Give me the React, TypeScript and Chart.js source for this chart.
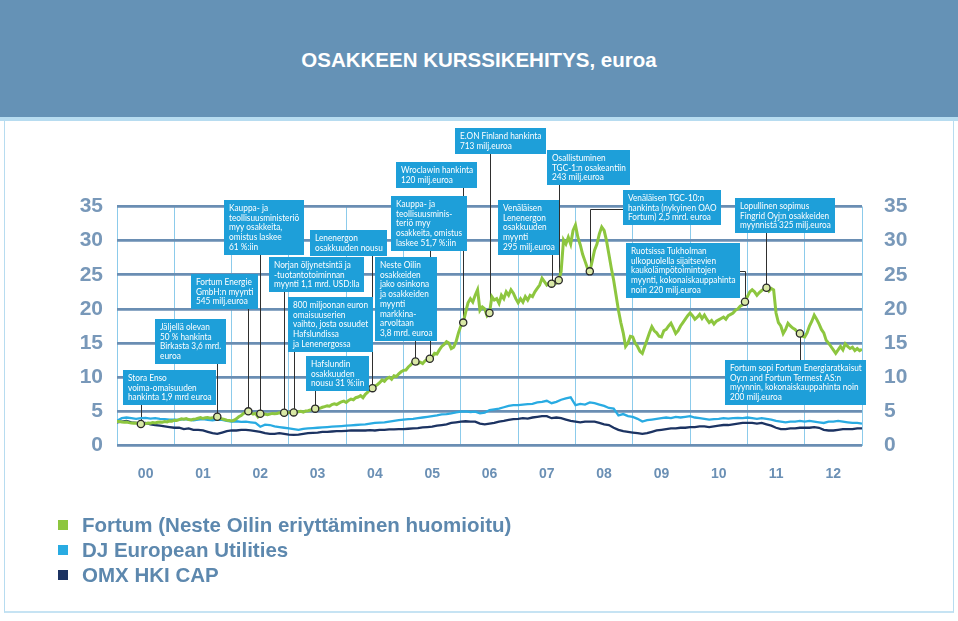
import React, { useEffect, useRef } from "react";
import { Chart, registerables } from "chart.js";

Chart.register(...registerables);

// ---------- data ----------
const YEAR_LABELS = ["00", "01", "02", "03", "04", "05", "06", "07", "08", "09", "10", "11", "12"];
const Y_TICKS = [0, 5, 10, 15, 20, 25, 30, 35];

const SERIES_NAMES = [
  "Fortum (Neste Oilin eriyttäminen huomioitu)",
  "DJ European Utilities",
  "OMX HKI CAP",
];

// Fortum share price, two readings per month (2000 – 2012)
const FORTUM_PER_YEAR = 24;
const F2000 = [3.5, 3.5, 3.45, 3.4, 3.45, 3.35, 3.3, 3.25, 3.3, 3.2, 3.15, 3.1, 3.2, 3.3, 3.25, 3.35, 3.3, 3.4, 3.45, 3.4, 3.5, 3.45, 3.6, 3.55];
const F2001 = [3.7, 3.65, 3.8, 3.9, 3.85, 3.95, 3.8, 3.75, 3.85, 3.9, 4.0, 4.1, 3.95, 4.05, 4.1, 4.0, 4.05, 4.15, 4.2, 4.0, 3.9, 3.8, 3.7, 3.65];
const F2002 = [3.6, 3.7, 3.9, 4.2, 4.4, 4.7, 4.9, 5.0, 4.8, 4.6, 4.7, 4.2, 4.65, 4.5, 4.6, 4.5, 4.6, 4.7, 4.65, 4.7, 4.8, 4.75, 4.8, 4.85];
const F2003 = [4.8, 4.9, 4.85, 4.9, 4.95, 5.0, 4.9, 5.05, 5.1, 5.2, 5.3, 5.4, 5.5, 5.45, 5.6, 5.7, 5.8, 5.75, 6.0, 6.1, 6.0, 6.2, 6.4, 6.5];
const F2004 = [6.3, 6.6, 6.8, 6.7, 7.0, 7.1, 7.3, 7.0, 7.5, 7.8, 8.2, 8.4, 8.7, 8.9, 9.2, 9.6, 9.4, 9.8, 10.0, 9.7, 10.2, 10.1, 10.5, 10.8];
const F2005 = [11.0, 11.05, 11.5, 11.8, 12.2, 12.3, 12.0, 12.2, 12.0, 12.4, 12.6, 12.7, 13.0, 13.5, 13.4, 14.0, 14.5, 14.8, 15.2, 15.0, 14.2, 14.4, 15.2, 16.5];
const F2006 = [17.5, 18.0, 19.5, 20.9, 21.5, 21.0, 22.0, 22.8, 19.8, 20.3, 20.0, 19.0, 19.4, 21.8, 21.3, 21.5, 20.8, 22.0, 21.5, 22.5, 22.0, 22.8, 22.3, 21.5];
const F2007 = [20.9, 21.5, 21.0, 21.8, 21.3, 22.0, 21.8, 22.5, 23.0, 23.5, 24.5, 24.0, 23.5, 23.8, 23.7, 24.0, 23.8, 24.2, 25.5, 30.1, 29.5, 30.5, 29.5, 31.5];
const F2008 = [32.3, 30.5, 29.4, 28.0, 27.0, 26.0, 25.5, 27.0, 28.6, 29.5, 31.0, 32.0, 31.5, 30.0, 28.0, 26.0, 24.2, 22.0, 19.8, 18.0, 16.5, 14.5, 15.0, 16.0];
const F2009 = [15.9, 15.0, 14.5, 13.8, 13.5, 14.5, 15.5, 16.5, 17.4, 16.8, 16.5, 16.0, 15.9, 16.8, 17.0, 17.5, 17.9, 17.2, 16.4, 16.8, 17.5, 18.0, 18.5, 19.0];
const F2010 = [19.4, 19.0, 18.5, 18.8, 19.2, 18.6, 19.1, 18.5, 18.0, 18.3, 17.8, 18.2, 18.4, 18.6, 18.8, 18.5, 19.0, 19.2, 19.4, 19.8, 20.0, 20.4, 20.6, 21.05];
const F2011 = [21.8, 22.5, 22.8, 22.5, 22.0, 22.4, 22.7, 22.9, 23.1, 22.6, 23.0, 22.8, 19.4, 18.0, 17.5, 16.4, 17.0, 17.9, 17.5, 17.2, 17.0, 16.6, 16.4, 16.0];
const F2012 = [15.9, 16.5, 17.5, 18.2, 19.1, 18.5, 17.8, 17.0, 16.5, 15.4, 15.0, 14.5, 14.0, 13.5, 14.0, 14.5, 14.0, 14.9, 14.5, 14.2, 14.4, 13.9, 14.2, 13.9];
const F_END = [14.1];

// DJ European Utilities, monthly, rebased
const INDEX_PER_YEAR = 12;
const DJ2000 = [3.6, 4.0, 4.1, 4.0, 3.9, 4.0, 4.05, 3.95, 4.0, 3.9, 3.85, 3.8];
const DJ2001 = [3.8, 3.75, 3.85, 3.8, 3.7, 3.8, 3.85, 3.75, 3.7, 3.8, 3.75, 3.6];
const DJ2002 = [3.5, 3.55, 3.45, 3.5, 3.4, 3.3, 2.75, 3.05, 3.0, 2.8, 2.7, 2.6];
const DJ2003 = [2.5, 2.4, 2.3, 2.45, 2.5, 2.55, 2.6, 2.65, 2.7, 2.75, 2.8, 2.85];
const DJ2004 = [2.9, 2.95, 3.0, 3.05, 3.1, 3.2, 3.3, 3.35, 3.4, 3.5, 3.6, 3.7];
const DJ2005 = [3.8, 3.85, 3.9, 4.0, 4.1, 4.2, 4.3, 4.4, 4.55, 4.6, 4.7, 4.85];
const DJ2006 = [4.95, 5.0, 4.9, 4.95, 4.7, 4.8, 5.2, 5.3, 5.4, 5.6, 5.8, 5.9];
const DJ2007 = [5.9, 6.0, 6.05, 6.1, 6.3, 6.4, 6.55, 6.2, 6.4, 6.7, 6.9, 7.05];
const DJ2008 = [5.9, 6.1, 6.0, 6.3, 6.2, 6.0, 5.8, 5.5, 5.4, 4.4, 4.6, 4.3];
const DJ2009 = [4.2, 3.9, 3.5, 3.7, 3.8, 3.9, 4.0, 4.1, 4.0, 4.2, 4.1, 4.2];
const DJ2010 = [4.3, 4.1, 4.0, 3.9, 3.8, 3.85, 3.9, 4.0, 3.95, 4.0, 4.05, 4.0];
const DJ2011 = [4.1, 4.0, 3.9, 4.0, 3.9, 3.8, 3.6, 3.5, 3.4, 3.5, 3.5, 3.6];
const DJ2012 = [3.5, 3.6, 3.5, 3.4, 3.3, 3.5, 3.5, 3.6, 3.5, 3.4, 3.3, 3.3];
const DJ_END = [3.2];

// OMX HKI CAP, monthly, rebased
const OMX2000 = [3.4, 3.5, 3.6, 3.4, 3.3, 3.2, 3.3, 3.1, 3.0, 2.9, 2.8, 2.7];
const OMX2001 = [2.6, 2.6, 2.4, 2.5, 2.3, 2.3, 2.2, 2.0, 1.8, 1.7, 1.9, 2.1];
const OMX2002 = [2.2, 2.2, 2.3, 2.3, 2.2, 2.1, 2.0, 1.8, 1.7, 1.7, 1.8, 1.7];
const OMX2003 = [1.6, 1.55, 1.6, 1.7, 1.8, 1.85, 1.9, 2.0, 2.0, 2.05, 2.1, 2.1];
const OMX2004 = [2.15, 2.2, 2.2, 2.2, 2.2, 2.25, 2.2, 2.3, 2.3, 2.35, 2.35, 2.4];
const OMX2005 = [2.4, 2.45, 2.5, 2.55, 2.65, 2.7, 2.75, 2.9, 3.0, 3.1, 3.3, 3.4];
const OMX2006 = [3.5, 3.55, 3.5, 3.5, 3.2, 3.1, 3.2, 3.3, 3.5, 3.6, 3.75, 3.85];
const OMX2007 = [3.9, 4.0, 3.95, 4.1, 4.2, 4.3, 4.3, 4.0, 4.1, 4.0, 3.8, 3.6];
const OMX2008 = [3.5, 3.4, 3.5, 3.5, 3.5, 3.3, 3.1, 3.0, 2.6, 2.3, 2.1, 2.0];
const OMX2009 = [1.9, 1.8, 1.7, 1.8, 2.0, 2.2, 2.3, 2.4, 2.5, 2.5, 2.6, 2.6];
const OMX2010 = [2.7, 2.7, 2.8, 2.8, 2.7, 2.8, 2.9, 3.0, 3.0, 3.1, 3.2, 3.3];
const OMX2011 = [3.3, 3.3, 3.2, 3.3, 3.1, 2.9, 2.6, 2.4, 2.4, 2.5, 2.5, 2.6];
const OMX2012 = [2.6, 2.6, 2.7, 2.6, 2.3, 2.2, 2.2, 2.3, 2.4, 2.4, 2.4, 2.5];
const OMX_END = [2.5];

const FORTUM = [...F2000, ...F2001, ...F2002, ...F2003, ...F2004, ...F2005, ...F2006, ...F2007, ...F2008, ...F2009, ...F2010, ...F2011, ...F2012, ...F_END];
const DJ = [...DJ2000, ...DJ2001, ...DJ2002, ...DJ2003, ...DJ2004, ...DJ2005, ...DJ2006, ...DJ2007, ...DJ2008, ...DJ2009, ...DJ2010, ...DJ2011, ...DJ2012, ...DJ_END];
const OMX = [...OMX2000, ...OMX2001, ...OMX2002, ...OMX2003, ...OMX2004, ...OMX2005, ...OMX2006, ...OMX2007, ...OMX2008, ...OMX2009, ...OMX2010, ...OMX2011, ...OMX2012, ...OMX_END];

// events: index into FORTUM series + caption
const EVENT_INDEX = [10, 42, 55, 60, 70, 74, 83, 107, 125, 131, 145, 156, 182, 185, 198, 263, 272, 286];
const EVENT_TEXT = [
  ["Stora Enso", "voima-omaisuuden", "hankinta 1,9 mrd euroa"],
  ["Jäljellä olevan", "50 % hankinta", "Birkasta 3,6 mrd.", "euroa"],
  ["Fortum Energie", "GmbH:n myynti", "545 milj.euroa"],
  ["Kauppa- ja", "teollisuusministeriö", "myy osakkeita,", "omistus laskee", "61 %:iin"],
  ["Norjan öljynetsintä ja", "-tuotantotoiminnan", "myynti 1,1 mrd. USD:lla"],
  ["800 miljoonan euron", "omaisuuserien", "vaihto, josta osuudet", "Hafslundissa", "ja Lenenergossa"],
  ["Hafslundin", "osakkuuden", "nousu 31 %:iin"],
  ["Lenenergon", "osakkuuden nousu"],
  ["Neste Oilin", "osakkeiden", "jako osinkona", "ja osakkeiden", "myynti", "markkina-", "arvoltaan", "3,8 mrd. euroa"],
  ["Kauppa- ja", "teollisuusminis-", "teriö myy", "osakkeita, omistus", "laskee 51,7 %:iin"],
  ["Wroclawin hankinta", "120 milj.euroa"],
  ["E.ON Finland hankinta", "713 milj.euroa"],
  ["Venäläisen", "Lenenergon", "osakkuuden", "myynti", "295 milj.euroa"],
  ["Osallistuminen", "TGC-1:n osakeantiin", "243 milj.euroa"],
  ["Venäläisen TGC-10:n", "hankinta (nykyinen OAO", "Fortum) 2,5 mrd. euroa"],
  ["Ruotsissa Tukholman", "ulkopuolella sijaitsevien", "kaukolämpötoimintojen", "myynti, kokonaiskauppahinta", "noin 220 milj.euroa"],
  ["Lopullinen sopimus", "Fingrid Oyj:n osakkeiden", "myynnistä 325 milj.euroa"],
  ["Fortum sopi Fortum Energiaratkaisut", "Oy:n and Fortum Termest AS:n", "myynnin, kokonaiskauppahinta noin", "200 milj.euroa"],
];

// ---------- layout of the caption boxes (top-left corner in axis units) ----------
const BOX_LAYOUT: { bx: number; by: number; elbow?: number }[] = [
  { bx: 0.1, by: 11.05 },
  { bx: 0.663, by: 18.52 },
  { bx: 1.286, by: 25.11 },
  { bx: 1.867, by: 35.94 },
  { bx: 2.658, by: 27.6 },
  { bx: 2.99, by: 21.79 },
  { bx: 3.298, by: 13.1 },
  { bx: 3.368, by: 31.55 },
  { bx: 4.503, by: 27.64 },
  { bx: 4.777, by: 36.53 },
  { bx: 4.869, by: 41.55 },
  { bx: 5.899, by: 46.44 },
  { bx: 6.644, by: 35.94 },
  { bx: 7.51, by: 43.27 },
  { bx: 8.836, by: 37.41, elbow: 34.58 },
  { bx: 8.878, by: 29.6, elbow: 25.59 },
  { bx: 10.785, by: 36.19 },
  { bx: 10.61, by: 12.52 },
];

const COLORS = ["#8dc63f", "#29abe2", "#1c3362"];
const BOX_FILL = "#1e9fd9";
const FONT_BOX = "10px Lato, 'Open Sans', sans-serif";
const SQUEEZE = 0.82;
const LINE_H = 9.7;

function boxGeom(chart: any, i: number) {
  const ctx = chart.ctx as CanvasRenderingContext2D;
  ctx.font = FONT_BOX;
  const lines = EVENT_TEXT[i];
  const widths = lines.map((l) => ctx.measureText(l).width * SQUEEZE);
  const w = Math.max(...widths) + 10;
  const h = 11 + (lines.length - 1) * LINE_H + 5;
  const x = chart.scales.x.getPixelForValue(BOX_LAYOUT[i].bx);
  const y = chart.scales.y.getPixelForValue(BOX_LAYOUT[i].by);
  return { x: Math.round(x), y: Math.round(y), w: Math.round(w), h: Math.round(h), widths };
}

const notesPlugin = {
  id: "notes",
  beforeDatasetsDraw(chart: any) {
    const ctx = chart.ctx as CanvasRenderingContext2D;
    const meta = chart.getDatasetMeta(0);
    ctx.save();
    ctx.strokeStyle = "#2f2f2f";
    ctx.lineWidth = 1;
    EVENT_INDEX.forEach((idx, i) => {
      const p = meta.data[idx];
      if (!p) return;
      const g = boxGeom(chart, i);
      const px = Math.round(p.x) + 0.5;
      ctx.beginPath();
      const el = BOX_LAYOUT[i].elbow;
      if (el !== undefined) {
        const ey = Math.round(chart.scales.y.getPixelForValue(el)) + 0.5;
        const ex = px < g.x ? g.x : g.x + g.w;
        ctx.moveTo(ex, ey);
        ctx.lineTo(px, ey);
        ctx.lineTo(px, p.y);
      } else {
        const edge = g.y > p.y ? g.y : g.y + g.h;
        ctx.moveTo(px, edge);
        ctx.lineTo(px, p.y);
      }
      ctx.stroke();
    });
    ctx.restore();
  },
  afterDatasetsDraw(chart: any) {
    const ctx = chart.ctx as CanvasRenderingContext2D;
    ctx.save();
    EVENT_TEXT.forEach((lines, i) => {
      const g = boxGeom(chart, i);
      ctx.fillStyle = BOX_FILL;
      ctx.fillRect(g.x, g.y, g.w, g.h);
      ctx.fillStyle = "#ffffff";
      ctx.font = FONT_BOX;
      ctx.textBaseline = "alphabetic";
      ctx.textAlign = "left";
      lines.forEach((l, k) => {
        ctx.fillText(l, g.x + 5, g.y + 11 + k * LINE_H, g.widths[k] + 0.5);
      });
    });
    ctx.restore();
  },
};

function ChartCanvas() {
  const ref = useRef<HTMLCanvasElement | null>(null);
  useEffect(() => {
    if (!ref.current) return;
    const markerSet = new Set(EVENT_INDEX);
    const tickFontY = { family: "Arial, 'Liberation Sans', sans-serif", size: 21, weight: "bold" as const };
    const chart = new Chart(ref.current, {
      type: "line",
      data: {
        datasets: [
          {
            label: SERIES_NAMES[0],
            data: FORTUM.map((v, i) => ({ x: i / FORTUM_PER_YEAR, y: v })),
            borderColor: COLORS[0],
            borderWidth: 3,
            tension: 0,
            pointRadius: (c: any) => (markerSet.has(c.dataIndex) ? 3.6 : 0),
            pointBackgroundColor: "#d9e8a6",
            pointBorderColor: "#2a2a2a",
            pointBorderWidth: 1.3,
            pointHoverRadius: 0,
          },
          {
            label: SERIES_NAMES[1],
            data: DJ.map((v, i) => ({ x: i / INDEX_PER_YEAR, y: v })),
            borderColor: COLORS[1],
            borderWidth: 2.3,
            tension: 0,
            pointRadius: 0,
          },
          {
            label: SERIES_NAMES[2],
            data: OMX.map((v, i) => ({ x: i / INDEX_PER_YEAR, y: v })),
            borderColor: COLORS[2],
            borderWidth: 2.3,
            tension: 0,
            pointRadius: 0,
          },
        ],
      },
      options: {
        animation: false,
        responsive: false,
        events: [],
        layout: { padding: { top: 206.5, bottom: 135.5, left: 0, right: 0 } },
        plugins: { legend: { display: false }, tooltip: { enabled: false }, title: { display: false } },
        scales: {
          x: {
            type: "linear",
            min: 0,
            max: YEAR_LABELS.length,
            position: "bottom",
            afterBuildTicks: (s: any) => {
              s.ticks = YEAR_LABELS.map((_, i) => ({ value: i })).concat([{ value: YEAR_LABELS.length }]);
            },
            afterFit: (s: any) => {
              s.height = 0;
            },
            ticks: { display: false },
            grid: { color: "#8ccbeb", lineWidth: 1, drawTicks: false },
            border: { display: false },
          },
          x2: {
            type: "linear",
            min: 0,
            max: YEAR_LABELS.length,
            position: "bottom",
            afterBuildTicks: (s: any) => {
              s.ticks = YEAR_LABELS.map((_, i) => ({ value: i + 0.5 }));
            },
            afterFit: (s: any) => {
              s.height = 40;
            },
            ticks: {
              autoSkip: false,
              maxRotation: 0,
              padding: 12,
              color: "#6b90b5",
              font: { family: "Arial, 'Liberation Sans', sans-serif", size: 14, weight: "bold" },
              callback: (v: any) => YEAR_LABELS[Math.floor(Number(v))],
            },
            grid: { display: false },
            border: { display: false },
          },
          y: {
            type: "linear",
            min: 0,
            max: 35,
            position: "left",
            afterBuildTicks: (s: any) => {
              s.ticks = Y_TICKS.map((v) => ({ value: v }));
            },
            afterFit: (s: any) => {
              s.width = 117;
            },
            ticks: { padding: 14, color: "#7898b9", font: tickFontY },
            grid: { color: "#6a8eb3", lineWidth: 2.8, drawTicks: false },
            border: { display: false },
          },
          y2: {
            type: "linear",
            min: 0,
            max: 35,
            position: "right",
            afterBuildTicks: (s: any) => {
              s.ticks = Y_TICKS.map((v) => ({ value: v }));
            },
            afterFit: (s: any) => {
              s.width = 96;
            },
            ticks: { padding: 14, color: "#7898b9", font: tickFontY },
            grid: { display: false },
            border: { display: false },
          },
        },
      },
      plugins: [notesPlugin],
    } as any);
    return () => chart.destroy();
  }, []);
  return <canvas ref={ref} width={958} height={621} style={{ position: "absolute", left: 0, top: 0, width: 958, height: 621 }} />;
}

export default function App() {
  return (
    <div
      style={{
        position: "fixed",
        left: 0,
        top: 0,
        width: 958,
        height: 621,
        background: "#ffffff",
        overflow: "hidden",
        fontFamily: "Arial, 'Liberation Sans', sans-serif",
      }}
    >
      <div style={{ position: "absolute", left: 0, top: 0, width: 958, height: 117, background: "#6592b6" }} />
      <div
        style={{
          position: "absolute",
          left: 0,
          top: 48,
          width: 958,
          textAlign: "center",
          color: "#ffffff",
          fontWeight: "bold",
          fontSize: 20.5,
          lineHeight: "24px",
        }}
      >
        OSAKKEEN KURSSIKEHITYS, euroa
      </div>
      <div style={{ position: "absolute", left: 0, top: 117, width: 958, height: 4, background: "#b7dcf0" }} />
      <div
        style={{
          position: "absolute",
          left: 4,
          top: 121,
          width: 948,
          height: 490,
          borderLeft: "1px solid #b7dcf0",
          borderRight: "1px solid #b7dcf0",
          borderBottom: "2px solid #c6e3f3",
        }}
      />
      <ChartCanvas />
      {SERIES_NAMES.map((name, i) => (
        <div key={name} style={{ position: "absolute", left: 58, top: 514 + i * 25, height: 22 }}>
          <div style={{ position: "absolute", left: 0, top: 6, width: 10, height: 10, background: COLORS[i] }} />
          <div
            style={{
              position: "absolute",
              left: 24,
              top: 0,
              whiteSpace: "nowrap",
              color: "#5d88ae",
              fontWeight: "bold",
              fontSize: 20.5,
              lineHeight: "22px",
            }}
          >
            {name}
          </div>
        </div>
      ))}
    </div>
  );
}
